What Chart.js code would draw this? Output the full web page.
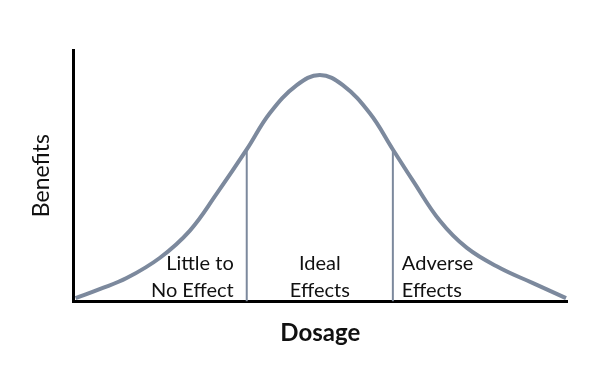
<!DOCTYPE html>
<html>
<head>
<meta charset="utf-8">
<script src="https://cdn.jsdelivr.net/npm/chart.js@4.4.0/dist/chart.umd.min.js"></script>
<style>
  body { margin: 0; background: #fff; }
  #wrap { width: 600px; height: 375px; }
</style>
</head>
<body>
<div id="wrap"><canvas id="grafico"></canvas></div>
<script>
// dosage (x) and benefit (y)
const dosagem = [76, 100, 127, 160, 190, 217, 247, 270, 297, 320, 343, 370, 393, 413, 440, 467, 500, 533, 566];
const beneficio = [3, 12, 23, 43, 70, 107, 151, 187, 215, 225, 215, 187, 151, 120, 80, 53, 33, 18, 3];

// the two dividers between the zones
const divisoes = [247, 393];
const alturaDivisoes = [151, 151];

// zone labels (two lines each)
const zonas = [['Little to', 'No Effect'], ['Ideal', 'Effects'], ['Adverse', 'Effects']];
const posicaoZonas = [234, 320, 402];
const alinhamentoZonas = ['right', 'center', 'left'];

const corCurva = 'rgb(124, 137, 157)';

let pontos = [];
for (let i = 0; i < dosagem.length; i++) {
    pontos.push({ x: dosagem[i], y: beneficio[i] });
}

let datasets = [{
    label: 'Benefits',
    data: pontos,
    borderColor: corCurva,
    borderWidth: 4,
    pointRadius: 0,
    tension: 0.4,
    fill: false
}];

for (let i = 0; i < divisoes.length; i++) {
    datasets.push({
        label: 'divisao' + i,
        data: [{ x: divisoes[i], y: 0 }, { x: divisoes[i], y: alturaDivisoes[i] }],
        borderColor: corCurva,
        borderWidth: 2,
        pointRadius: 0,
        fill: false
    });
}

// writes the zone names under the curve
const textoZonas = {
    id: 'textoZonas',
    afterDatasetsDraw(chart) {
        const ctx = chart.ctx;
        const yBase = chart.scales.y.getPixelForValue(0);
        ctx.save();
        ctx.font = '20px Lato';
        ctx.fillStyle = '#111';
        ctx.textBaseline = 'middle';
        for (let i = 0; i < zonas.length; i++) {
            const px = chart.scales.x.getPixelForValue(posicaoZonas[i]);
            ctx.textAlign = alinhamentoZonas[i];
            ctx.fillText(zonas[i][0], px, yBase - 38);
            ctx.fillText(zonas[i][1], px, yBase - 11);
        }
        ctx.restore();
    }
};

const config = {
    type: 'line',
    data: { datasets: datasets },
    options: {
        responsive: true,
        maintainAspectRatio: false,
        animation: false,
        clip: false,
        layout: { padding: { left: 28, right: 33, top: 50, bottom: 27 } },
        plugins: {
            legend: { display: false },
            tooltip: { enabled: false }
        },
        scales: {
            x: {
                type: 'linear',
                min: 74,
                max: 567,
                grid: { display: false },
                border: { display: true, color: '#000', width: 3 },
                ticks: { display: false },
                title: {
                    display: true,
                    text: 'Dosage',
                    color: '#111',
                    font: { family: 'Lato', size: 24, weight: 'bold' },
                    padding: { top: 10, bottom: 0 }
                }
            },
            y: {
                min: 0,
                max: 250,
                grid: { display: false },
                border: { display: true, color: '#000', width: 3 },
                ticks: { display: false },
                title: {
                    display: true,
                    text: 'Benefits',
                    color: '#111',
                    font: { family: 'Lato', size: 23 },
                    padding: { top: 0, bottom: 10 }
                }
            }
        }
    },
    plugins: [textoZonas]
};

new Chart(document.getElementById('grafico'), config);
</script>
</body>
</html>
